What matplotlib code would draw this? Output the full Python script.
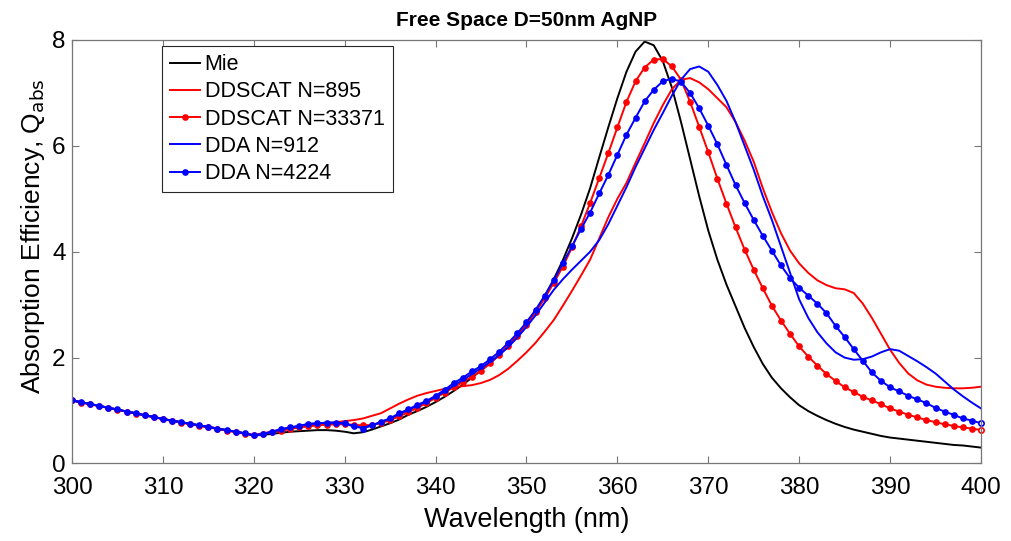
import matplotlib
matplotlib.use("Agg")
import matplotlib.pyplot as plt
import numpy as np

plt.rcParams['font.family'] = ['Liberation Sans', 'DejaVu Sans']

wavelength = list(range(300, 401))

mie = [1.19, 1.16, 1.12, 1.09, 1.05, 1.02, 0.98, 0.95, 0.91, 0.88,
       0.84, 0.81, 0.78, 0.75, 0.72, 0.69, 0.66, 0.63, 0.60, 0.57,
       0.53, 0.54, 0.56, 0.58, 0.60, 0.61, 0.62, 0.63, 0.63, 0.62,
       0.60, 0.57, 0.59, 0.64, 0.70, 0.76, 0.83, 0.92, 0.99, 1.07,
       1.16, 1.26, 1.37, 1.49, 1.62, 1.76, 1.90, 2.05, 2.22, 2.42,
       2.64, 2.88, 3.16, 3.48, 3.84, 4.25, 4.70, 5.20, 5.78, 6.35,
       6.90, 7.40, 7.78, 7.97, 7.90, 7.60, 7.10, 6.45, 5.75, 5.05,
       4.40, 3.85, 3.38, 2.97, 2.56, 2.20, 1.88, 1.62, 1.42, 1.25,
       1.10, 0.99, 0.90, 0.82, 0.75, 0.69, 0.64, 0.60, 0.56, 0.52,
       0.49, 0.47, 0.45, 0.43, 0.41, 0.39, 0.37, 0.35, 0.34, 0.32,
       0.30]

ddscat_895 = [1.19, 1.16, 1.12, 1.09, 1.05, 1.02, 0.98, 0.95, 0.91, 0.88,
              0.84, 0.81, 0.78, 0.75, 0.72, 0.69, 0.66, 0.63, 0.60, 0.57,
              0.54, 0.57, 0.60, 0.64, 0.67, 0.70, 0.72, 0.74, 0.76, 0.78,
              0.80, 0.82, 0.85, 0.90, 0.95, 1.04, 1.13, 1.21, 1.28, 1.33,
              1.37, 1.41, 1.44, 1.46, 1.48, 1.52, 1.58, 1.67, 1.79, 1.94,
              2.10, 2.28, 2.49, 2.71, 2.98, 3.26, 3.55, 3.85, 4.25, 4.65,
              5.00, 5.30, 5.68, 6.05, 6.43, 6.77, 7.07, 7.25, 7.28, 7.20,
              7.07, 6.90, 6.73, 6.45, 6.10, 5.70, 5.20, 4.75, 4.35, 4.02,
              3.78, 3.60, 3.46, 3.37, 3.31, 3.29, 3.22, 3.02, 2.75, 2.45,
              2.15, 1.90, 1.70, 1.57, 1.49, 1.45, 1.43, 1.42, 1.42, 1.43,
              1.45]

ddscat_33371 = [1.19, 1.15, 1.12, 1.08, 1.05, 1.01, 0.98, 0.94, 0.91, 0.87,
                0.84, 0.80, 0.77, 0.74, 0.71, 0.68, 0.65, 0.62, 0.59, 0.56,
                0.53, 0.56, 0.59, 0.62, 0.65, 0.68, 0.70, 0.72, 0.73, 0.74,
                0.74, 0.73, 0.72, 0.73, 0.76, 0.82, 0.89, 0.97, 1.05, 1.14,
                1.24, 1.34, 1.44, 1.54, 1.64, 1.75, 1.89, 2.05, 2.22, 2.41,
                2.62, 2.86, 3.12, 3.41, 3.72, 4.08, 4.48, 4.92, 5.39, 5.86,
                6.35, 6.83, 7.22, 7.48, 7.63, 7.64, 7.50, 7.25, 6.83, 6.36,
                5.88, 5.38, 4.91, 4.46, 4.04, 3.66, 3.31, 2.98, 2.70, 2.45,
                2.21, 2.02, 1.85, 1.69, 1.56, 1.44, 1.35, 1.26, 1.19, 1.12,
                1.04, 0.98, 0.92, 0.87, 0.82, 0.78, 0.74, 0.71, 0.68, 0.66,
                0.63]

dda_912 = [1.19, 1.16, 1.12, 1.09, 1.05, 1.02, 0.98, 0.95, 0.91, 0.88,
           0.84, 0.81, 0.78, 0.75, 0.72, 0.69, 0.66, 0.63, 0.60, 0.57,
           0.53, 0.56, 0.60, 0.64, 0.68, 0.71, 0.74, 0.76, 0.77, 0.77,
           0.75, 0.70, 0.68, 0.72, 0.78, 0.85, 0.93, 1.01, 1.09, 1.17,
           1.26, 1.36, 1.47, 1.58, 1.69, 1.80, 1.92, 2.05, 2.20, 2.38,
           2.58, 2.80, 3.04, 3.28, 3.48, 3.66, 3.83, 4.00, 4.22, 4.52,
           4.87, 5.22, 5.60, 5.95, 6.30, 6.62, 6.95, 7.25, 7.45, 7.50,
           7.40, 7.15, 6.85, 6.45, 6.00, 5.55, 5.05, 4.60, 4.10, 3.60,
           3.10, 2.75, 2.48, 2.27, 2.10, 2.00, 1.96, 1.97, 2.02, 2.10,
           2.16, 2.13, 2.03, 1.93, 1.82, 1.70, 1.55, 1.40, 1.27, 1.15,
           1.04]

dda_4224 = [1.19, 1.16, 1.12, 1.09, 1.05, 1.02, 0.98, 0.95, 0.91, 0.88,
            0.84, 0.81, 0.78, 0.75, 0.72, 0.69, 0.66, 0.63, 0.60, 0.57,
            0.53, 0.55, 0.60, 0.65, 0.68, 0.71, 0.75, 0.76, 0.77, 0.77,
            0.76, 0.71, 0.66, 0.72, 0.79, 0.85, 0.95, 1.02, 1.11, 1.18,
            1.28, 1.39, 1.52, 1.62, 1.74, 1.84, 1.97, 2.11, 2.28, 2.46,
            2.67, 2.90, 3.17, 3.46, 3.78, 4.10, 4.43, 4.74, 5.10, 5.45,
            5.83, 6.21, 6.53, 6.84, 7.06, 7.22, 7.27, 7.21, 7.00, 6.71,
            6.38, 6.03, 5.64, 5.26, 4.92, 4.60, 4.30, 4.02, 3.74, 3.50,
            3.32, 3.17, 3.02, 2.84, 2.60, 2.39, 2.16, 1.94, 1.72, 1.56,
            1.44, 1.36, 1.28, 1.21, 1.14, 1.05, 0.98, 0.92, 0.85, 0.81,
            0.76]

labels = ["Mie", "DDSCAT N=895", "DDSCAT N=33371", "DDA N=912", "DDA N=4224"]

fig = plt.figure(figsize=(10.11, 5.41), dpi=100)
ax = fig.add_axes([0.0712, 0.1433, 0.8991, 0.7828])

lw = 1.4
ms = 3.8
n = len(wavelength)
ax.plot(wavelength, mie, color='k', lw=lw, label=labels[0])
ax.plot(wavelength, ddscat_895, color='#ff0000', lw=lw, label=labels[1])
ax.plot(wavelength, ddscat_33371, color='#ff0000', lw=lw, marker='o',
        markersize=ms, markevery=list(range(n - 1)), label=labels[2])
ax.plot(wavelength, dda_912, color='#0000ff', lw=lw, label=labels[3])
ax.plot(wavelength, dda_4224, color='#0000ff', lw=lw, marker='o',
        markersize=ms, markevery=list(range(n - 1)), label=labels[4])
# final samples shown as open markers, as in the original
ax.plot(wavelength[-1:], ddscat_33371[-1:], 'o', ms=ms, mfc='white',
        mec='#ff0000', mew=1.2, clip_on=False)
ax.plot(wavelength[-1:], dda_4224[-1:], 'o', ms=ms, mfc='white',
        mec='#0000ff', mew=1.2, clip_on=False)

ax.set_xlim(300, 400)
ax.set_ylim(0, 8)
ax.set_xticks(range(300, 401, 10))
ax.set_yticks([0, 2, 4, 6, 8])
ax.tick_params(direction='in', top=True, right=True, labelsize=17.5,
               length=5, width=0.8, color='#777777')
ax.tick_params(axis='x', pad=9.5)
ax.tick_params(axis='y', pad=4.5)
for s in ax.spines.values():
    s.set_color('#777777')
    s.set_linewidth(0.9)

ax.set_xlabel("Wavelength (nm)", fontsize=19.5, labelpad=6)
ax.set_ylabel("Absorption Efficiency, Q$_{\\rm abs}$", fontsize=19)
ax.yaxis.set_label_coords(-0.028, 0.537)
ax.set_title("Free Space D=50nm AgNP", fontsize=15, fontweight='bold', pad=10)

leg = ax.legend(loc='upper left', bbox_to_anchor=(0.099, 0.986), fontsize=15.5,
                frameon=True, fancybox=False, framealpha=1, edgecolor='#262626',
                handlelength=1.4, handletextpad=0.2, borderpad=0.38,
                labelspacing=0.29, numpoints=1, borderaxespad=0)
leg.get_frame().set_linewidth(0.8)

fig.savefig("out.png", dpi=100)
